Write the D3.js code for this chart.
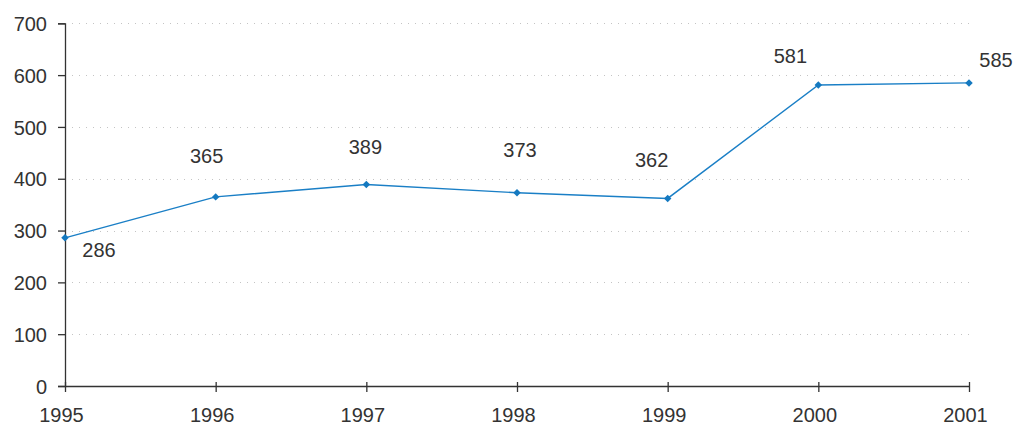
<!DOCTYPE html>
<html>
<head>
<meta charset="utf-8">
<script src="https://cdn.jsdelivr.net/npm/d3@7"></script>
<style>
  html, body { margin: 0; padding: 0; background: #fff; }
  svg { display: block; }
  text { font-family: Arial, "Liberation Sans", sans-serif; }
</style>
</head>
<body>
<svg id="chart" width="1016" height="426"></svg>
<script>
const years = ["1995", "1996", "1997", "1998", "1999", "2000", "2001"];
const values = [286, 365, 389, 373, 362, 581, 585];
const yTicks = [0, 100, 200, 300, 400, 500, 600, 700];
// label placement offsets (style only): [dx, dy] from point to label baseline centre
const labelOffsets = [[34, 19], [-9, -34], [-1, -30], [3, -36], [-16, -31], [-28, -22], [27, -16]];

const svg = d3.select("#chart");
const mLeft = 65, mRight = 969, mTop = 23.3, mBottom = 386;

const x = d3.scalePoint().domain(years).range([mLeft, mRight]);
const y = d3.scaleLinear().domain([0, 700]).range([mBottom, mTop]);

// gridlines
svg.append("g")
  .selectAll("line")
  .data(yTicks.filter(d => d > 0))
  .join("line")
  .attr("x1", mLeft).attr("x2", mRight)
  .attr("y1", d => Math.round(y(d)) + 0.5).attr("y2", d => Math.round(y(d)) + 0.5)
  .attr("stroke", "#c4c4c4")
  .attr("stroke-width", 1)
  .attr("stroke-dasharray", "1,6");

// y axis
const yAxis = svg.append("g")
  .attr("transform", `translate(${mLeft},0)`)
  .call(d3.axisLeft(y).tickValues(yTicks).tickSize(7).tickPadding(11).tickFormat(d3.format("d")));
yAxis.select(".domain").attr("stroke", "#333").attr("stroke-width", 1.3);
yAxis.selectAll(".tick line").attr("stroke", "#333").attr("stroke-width", 1.3);
yAxis.selectAll(".tick text")
  .attr("font-size", 20).attr("fill", "#333")
  .attr("font-family", "Arial, 'Liberation Sans', sans-serif")
  .attr("dy", "0.36em");

// x axis
const xAxis = svg.append("g")
  .attr("transform", `translate(0,${mBottom})`)
  .call(d3.axisBottom(x).tickSize(6).tickSizeOuter(0).tickPadding(16));
xAxis.select(".domain").attr("stroke", "#333").attr("stroke-width", 1.3);
xAxis.selectAll(".tick line").attr("stroke", "#333").attr("stroke-width", 1.3).attr("y1", -4);
xAxis.selectAll(".tick text")
  .attr("font-size", 20).attr("fill", "#333")
  .attr("font-family", "Arial, 'Liberation Sans', sans-serif")
  .attr("dx", -4);

// line
const data = years.map((yr, i) => ({ yr, v: values[i], i }));
svg.append("path")
  .datum(data)
  .attr("fill", "none")
  .attr("stroke", "#1a7fc6")
  .attr("stroke-width", 1.4)
  .attr("d", d3.line().x(d => x(d.yr)).y(d => y(d.v)));

// markers (rotated squares = diamonds)
svg.append("g")
  .selectAll("path")
  .data(data)
  .join("path")
  .attr("transform", d => `translate(${x(d.yr)},${y(d.v)}) rotate(45)`)
  .attr("d", d3.symbol().type(d3.symbolSquare).size(28))
  .attr("fill", "#1479c0");

// labels
svg.append("g")
  .selectAll("text")
  .data(data)
  .join("text")
  .attr("x", d => x(d.yr) + labelOffsets[d.i][0])
  .attr("y", d => y(d.v) + labelOffsets[d.i][1])
  .attr("text-anchor", "middle")
  .attr("font-size", 20)
  .attr("fill", "#333")
  .text(d => d.v);
</script>
</body>
</html>
